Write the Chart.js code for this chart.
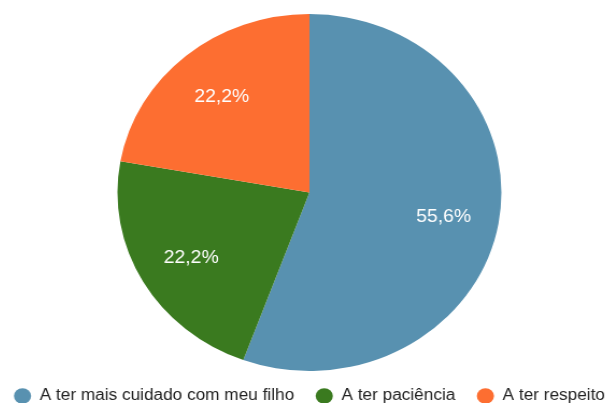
<!DOCTYPE html>
<html>
<head>
<meta charset="utf-8">
<script src="https://cdn.jsdelivr.net/npm/chart.js@4"></script>
<style>
  html, body { margin: 0; padding: 0; background: #fff; }
  #wrap { position: relative; width: 607px; height: 403px; overflow: hidden; }
  /* pie is drawn slightly wider than tall */
  #stretch { position: absolute; left: -24.44px; top: 0; width: 620px; height: 414px;
             transform: scaleX(1.0756); transform-origin: 0 0; }
</style>
</head>
<body>
<div id="wrap">
  <div id="stretch">
    <canvas id="pie" width="620" height="414"></canvas>
  </div>
</div>
<script>
const categories = ['A ter mais cuidado com meu filho', 'A ter paciência', 'A ter respeito'];
const percents = [55.6, 22.2, 22.2];
const colors = ['#5891b0', '#3a7a1f', '#fd6e31'];

function fmt(v) {
  return v.toFixed(1).replace('.', ',') + '%';
}

// percentage text inside each slice
const sliceLabels = {
  id: 'sliceLabels',
  afterDatasetsDraw(chart) {
    const ctx = chart.ctx;
    const meta = chart.getDatasetMeta(0);
    ctx.save();
    ctx.font = '18px Arial, "Liberation Sans", sans-serif';
    ctx.fillStyle = '#ffffff';
    ctx.textAlign = 'center';
    ctx.textBaseline = 'middle';
    meta.data.forEach((arc, i) => {
      const p = arc.getProps(['x', 'y', 'startAngle', 'endAngle', 'outerRadius'], true);
      const mid = (p.startAngle + p.endAngle) / 2;
      const r = p.outerRadius * 0.71;
      ctx.fillText(fmt(percents[i]), p.x + Math.cos(mid) * r, p.y + Math.sin(mid) * r + 2);
    });
    ctx.restore();
  }
};

const ctx = document.getElementById('pie').getContext('2d');
new Chart(ctx, {
  type: 'pie',
  data: {
    labels: categories,
    datasets: [{
      data: percents,
      backgroundColor: colors,
      borderWidth: 0,
      radius: 178.5
    }]
  },
  options: {
    responsive: false,
    animation: false,
    layout: { padding: { top: 17 } },
    plugins: {
      tooltip: { enabled: false },
      legend: {
        position: 'bottom',
        labels: {
          usePointStyle: true,
          pointStyle: 'circle',
          pointStyleWidth: 16,
          boxHeight: 11,
          padding: 20,
          color: '#222',
          font: { family: 'Arial, "Liberation Sans", sans-serif', size: 16 }
        }
      }
    }
  },
  plugins: [sliceLabels]
});
</script>
</body>
</html>
